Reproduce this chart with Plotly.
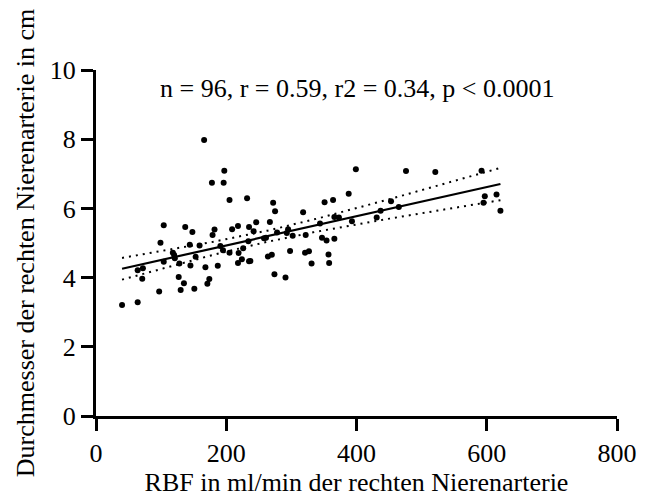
import numpy as np
import plotly.graph_objects as go

# RBF (ml/min) of the right renal artery
rbf = [166, 197, 178, 196, 205, 232, 104, 137, 148, 182, 179, 209, 218, 235, 246, 242, 267,
       99, 144, 159, 118, 120, 104, 121, 128, 153, 145, 191, 195, 205, 219, 226, 234, 218,
       224, 235, 237, 258, 264, 168, 187, 64, 72, 71, 127, 174, 171, 135, 130, 151, 97, 40, 64,
       399, 476, 521, 388, 272, 275, 351, 364, 318, 453, 366, 373, 393, 431, 437, 465, 344,
       295, 278, 293, 302, 322, 261, 347, 354, 366, 270, 298, 321, 327, 357, 331, 358, 274, 291,
       592, 597, 615, 595, 621]
# Diameter (cm) of the right renal artery
diam = [7.98, 7.09, 6.74, 6.74, 6.24, 6.29, 5.51, 5.46, 5.32, 5.39, 5.23, 5.40, 5.49, 5.46, 5.60, 5.34, 5.61,
        5.01, 4.95, 4.93, 4.72, 4.65, 4.46, 4.56, 4.41, 4.60, 4.35, 4.91, 4.79, 4.72, 4.71, 4.85, 5.05, 4.42,
        4.53, 4.47, 4.48, 5.14, 4.61, 4.30, 4.34, 4.21, 4.27, 3.97, 4.02, 3.96, 3.82, 3.84, 3.64, 3.68, 3.60, 3.21, 3.29,
        7.13, 7.08, 7.05, 6.42, 6.16, 5.92, 6.18, 6.24, 5.89, 6.21, 5.75, 5.74, 5.63, 5.74, 5.93, 6.04, 5.56,
        5.40, 5.30, 5.29, 5.21, 5.23, 5.15, 5.15, 5.07, 5.12, 4.66, 4.77, 4.72, 4.76, 4.67, 4.41, 4.42, 4.10, 4.00,
        7.09, 6.35, 6.40, 6.16, 5.93]

stats_text = "n = 96, r = 0.59, r2 = 0.34, p < 0.0001"
x_ticks = [0, 200, 400, 600, 800]
y_ticks = [0, 2, 4, 6, 8, 10]

x = np.array(rbf, float)
y = np.array(diam, float)
n = len(x)
slope, intercept = np.polyfit(x, y, 1)
resid = y - (slope * x + intercept)
s = np.sqrt(np.sum(resid ** 2) / (n - 2))
t_crit = 1.9855
xf = np.linspace(x.min(), x.max(), 100)
yf = slope * xf + intercept
se = s * np.sqrt(1 / n + (xf - x.mean()) ** 2 / np.sum((x - x.mean()) ** 2))

FONT = "Liberation Serif"
FS = 26
fig = go.Figure()
fig.add_trace(go.Scatter(x=xf, y=yf + t_crit * se, mode="lines",
                         line=dict(color="black", width=2, dash="2px,5px"), hoverinfo="skip"))
fig.add_trace(go.Scatter(x=xf, y=yf - t_crit * se, mode="lines",
                         line=dict(color="black", width=2, dash="2px,5px"), hoverinfo="skip"))
fig.add_trace(go.Scatter(x=xf, y=yf, mode="lines", line=dict(color="black", width=2.2), hoverinfo="skip"))
fig.add_trace(go.Scatter(x=rbf, y=diam, mode="markers",
                         marker=dict(color="black", size=6)))

fig.add_annotation(text=stats_text, x=0.5, y=1.0, xref="paper", yref="paper",
                   xanchor="center", yanchor="middle", yshift=-18, showarrow=False,
                   font=dict(family=FONT, size=FS, color="black"))

axis_common = dict(showgrid=False, zeroline=False, showline=True, linecolor="black", linewidth=3,
                   ticks="outside", ticklen=12, tickwidth=3, tickcolor="black",
                   tickfont=dict(family=FONT, size=FS, color="black"))
fig.update_xaxes(range=[0, 800], tickvals=x_ticks, **axis_common,
                 title=dict(text="RBF in ml/min der rechten Nierenarterie",
                            font=dict(family=FONT, size=FS, color="black"), standoff=6))
fig.update_yaxes(range=[0, 10], tickvals=y_ticks, **axis_common,
                 title=dict(text="Durchmesser der rechten Nierenarterie in cm",
                            font=dict(family=FONT, size=FS, color="black"), standoff=8))
fig.update_layout(width=646, height=502, showlegend=False,
                  margin=dict(l=88, r=37, t=62, b=94),
                  plot_bgcolor="white", paper_bgcolor="white")
fig.write_html("out.html")
